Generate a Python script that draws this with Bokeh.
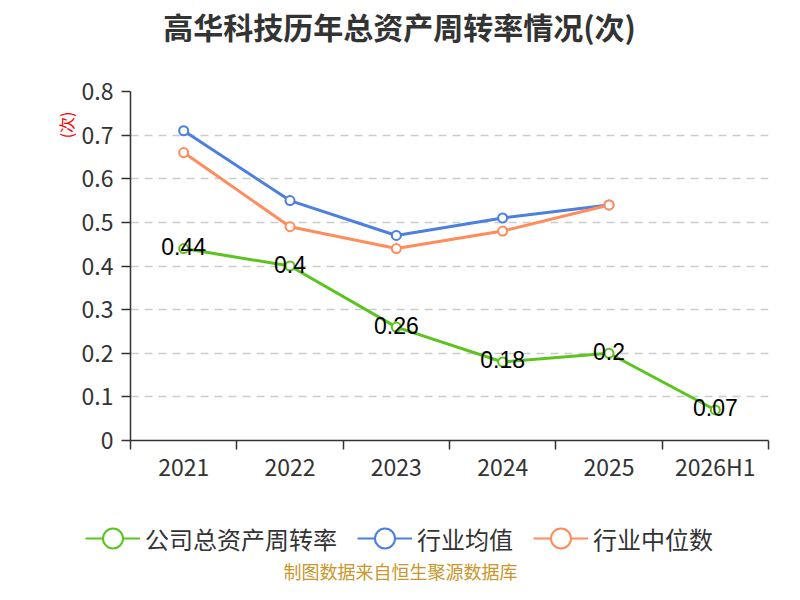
from bokeh.plotting import figure
from bokeh.layouts import column
from bokeh.models import (ColumnDataSource, FixedTicker, Label, Legend, LegendItem, Range1d, Title)
from bokeh.embed import file_html
from bokeh.resources import INLINE
from bokeh.core.properties import value

categories = ["2021", "2022", "2023", "2024", "2025", "2026H1"]
company = [0.44, 0.40, 0.26, 0.18, 0.20, 0.07]
industry_avg = [0.71, 0.55, 0.47, 0.51, 0.54]
industry_median = [0.66, 0.49, 0.44, 0.48, 0.54]
company_labels = ["0.44", "0.4", "0.26", "0.18", "0.2", "0.07"]
y_ticks = [0, 0.1, 0.2, 0.3, 0.4, 0.5, 0.6, 0.7, 0.8]
y_tick_labels = ["0", "0.1", "0.2", "0.3", "0.4", "0.5", "0.6", "0.7", "0.8"]

title_text = "高华科技历年总资产周转率情况(次)"
footer_text = "制图数据来自恒生聚源数据库"
unit_text = "(次)"
names = ["公司总资产周转率", "行业均值", "行业中位数"]

GREEN = "#5bc421"
BLUE = "#4b7fe0"
ORANGE = "#ff8c5a"
FONT = "Noto Sans CJK SC"

xs = [i + 0.5 for i in range(len(categories))]

W = 784
H_TOP, H_MAIN, H_BOT = 52, 448, 84


def blank(h):
    f = figure(width=W, height=h, output_backend="svg", toolbar_location=None,
               x_range=Range1d(0, W), y_range=Range1d(0, h),
               x_axis_type=None, y_axis_type=None, min_border=0, frame_align=False)
    f.outline_line_color = None
    f.grid.grid_line_color = None
    f.background_fill_color = "white"
    f.border_fill_color = "white"
    return f


# ---- title strip
p_top = blank(H_TOP)
p_top.add_layout(Label(x=399, y=H_TOP - 25, x_units="screen", y_units="screen",
                       text=title_text, text_align="center", text_baseline="middle",
                       text_font=FONT, text_font_size="30px", text_font_style="bold",
                       text_color="#333333"))

# ---- main chart
p = figure(width=W, height=H_MAIN, output_backend="svg", toolbar_location=None,
           x_range=Range1d(0, len(categories)), y_range=Range1d(0, 0.8),
           min_border_left=130, min_border_right=16, min_border_top=39,
           min_border_bottom=60)
p.outline_line_color = None
p.background_fill_color = "white"
p.border_fill_color = "white"

p.xaxis.ticker = FixedTicker(ticks=xs, minor_ticks=list(range(len(categories) + 1)))
p.xaxis.major_label_overrides = {x: c for x, c in zip(xs, categories)}
p.xaxis.major_tick_line_color = None
p.xaxis.minor_tick_out = 9
p.xaxis.minor_tick_in = 0
p.xaxis.minor_tick_line_color = "#333333"
p.xaxis.minor_tick_line_width = 1.5
p.xaxis.major_label_standoff = -1
p.yaxis.ticker = FixedTicker(ticks=y_ticks)
p.yaxis.major_label_overrides = {t: l for t, l in zip(y_ticks, y_tick_labels)}
p.yaxis.major_tick_out = 9
p.yaxis.major_tick_in = 0
p.yaxis.minor_tick_line_color = None
p.yaxis.major_label_standoff = 8
p.yaxis.major_tick_line_color = "#333333"
for ax in (p.xaxis, p.yaxis):
    ax.axis_line_color = "#333333"
    ax.axis_line_width = 1.5
    ax.major_tick_line_width = 1.5
    ax.major_label_text_font = FONT
    ax.major_label_text_font_size = "23px"
    ax.major_label_text_color = "#333333"

p.xgrid.grid_line_color = None
p.ygrid.ticker = FixedTicker(ticks=y_ticks[1:])
p.ygrid.grid_line_color = "#cccccc"
p.ygrid.grid_line_dash = "8 6"
p.ygrid.grid_line_width = 1.5

src_c = ColumnDataSource(dict(x=xs, y=company, t=company_labels))
src_a = ColumnDataSource(dict(x=xs[:len(industry_avg)], y=industry_avg))
src_m = ColumnDataSource(dict(x=xs[:len(industry_median)], y=industry_median))

line_style = dict(line_width=3)
mark_style = dict(size=9, marker="circle", fill_color="white", line_width=2)
p.line("x", "y", source=src_a, line_color=BLUE, **line_style)
p.scatter("x", "y", source=src_a, line_color=BLUE, **mark_style)
p.line("x", "y", source=src_m, line_color=ORANGE, **line_style)
p.scatter("x", "y", source=src_m, line_color=ORANGE, **mark_style)
p.line("x", "y", source=src_c, line_color=GREEN, **line_style)
p.scatter("x", "y", source=src_c, line_color=GREEN, **mark_style)

p.text("x", "y", text="t", source=src_c, text_align="center", text_baseline="middle",
       y_offset=-2, text_font=value("Liberation Sans"), text_font_size="23px",
       text_color="black")

p.add_layout(Title(text=unit_text, align="right", offset=20, standoff=2,
                   text_font=FONT, text_font_size="16px", text_color="red",
                   text_font_style="normal"), "left")

# ---- legend + footer strip
p_bot = blank(H_BOT)
items = []
for nm, col, src in zip(names, [GREEN, BLUE, ORANGE], [src_c, src_a, src_m]):
    r1 = p_bot.line("x", "y", source=src, line_color=col, line_width=2, visible=False)
    r2 = p_bot.scatter("x", "y", source=src, marker="circle", size=22, fill_color="white",
                       line_color=col, line_width=2, visible=False)
    items.append(LegendItem(label=nm, renderers=[r1, r2]))
legend = Legend(items=items, location=(85, 21), orientation="horizontal",
                glyph_width=55, glyph_height=50, label_standoff=5, spacing=20,
                padding=0, margin=0, border_line_color=None, background_fill_alpha=0,
                inactive_fill_alpha=0,
                label_text_font=FONT, label_text_font_size="24px",
                label_text_color="#333333", label_height=50)
p_bot.add_layout(legend, "center")
p_bot.add_layout(Label(x=400, y=14, x_units="screen", y_units="screen", text=footer_text,
                       text_align="center", text_baseline="middle", text_font=FONT,
                       text_font_size="18px", text_color="#c8962a"))

layout = column(p_top, p, p_bot, spacing=0)
open("out.html", "w").write(file_html(layout, INLINE))
